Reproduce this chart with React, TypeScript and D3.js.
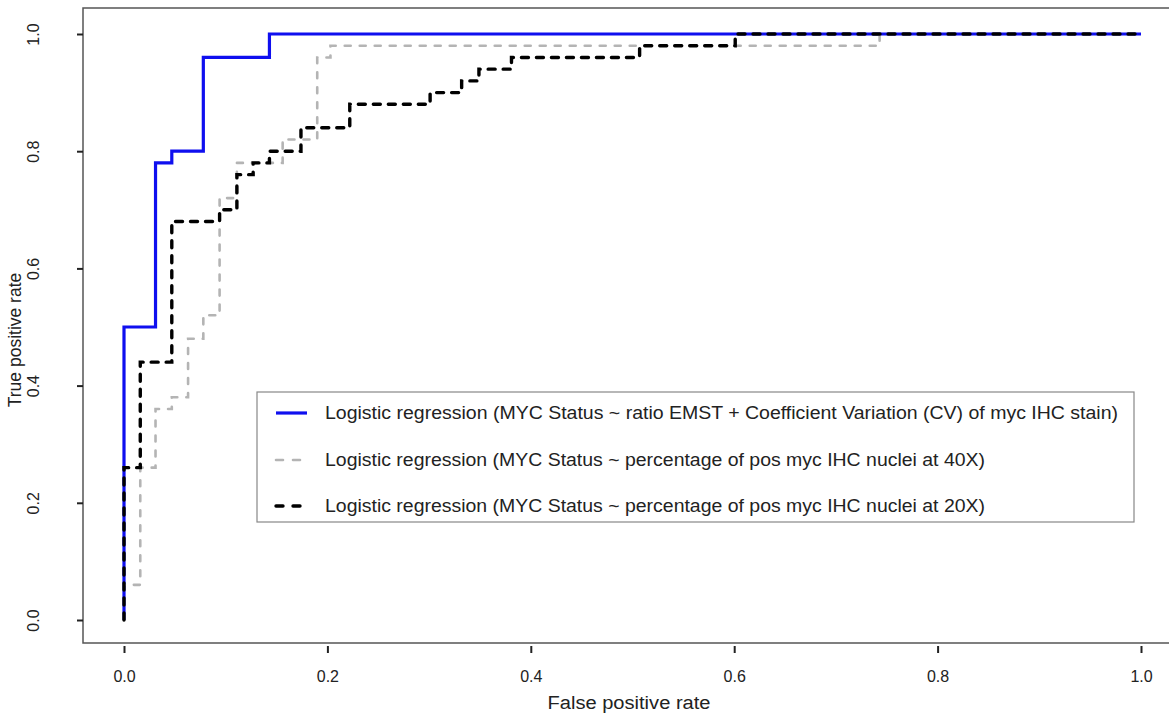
import React, { useEffect, useRef } from "react";
import * as d3 from "d3";

// ROC corner points, drawn with a step-after curve
const fprEmst = [0, 0, 0.031, 0.047, 0.078, 0.143, 1];
const tprEmst = [0, 0.5, 0.78, 0.8, 0.96, 1, 1];

const fpr40x = [0, 0, 0.016, 0.031, 0.047, 0.063, 0.078, 0.094, 0.111, 0.156, 0.19, 0.203, 0.743, 1];
const tpr40x = [0, 0.06, 0.26, 0.36, 0.38, 0.48, 0.52, 0.72, 0.78, 0.82, 0.96, 0.98, 1, 1];

const fpr20x = [0, 0, 0.016, 0.047, 0.094, 0.111, 0.127, 0.143, 0.174, 0.222, 0.301, 0.332, 0.349, 0.381, 0.507, 0.601, 1];
const tpr20x = [0, 0.26, 0.44, 0.68, 0.7, 0.76, 0.78, 0.8, 0.84, 0.88, 0.9, 0.92, 0.94, 0.96, 0.98, 1, 1];

const xTicks = [0, 0.2, 0.4, 0.6, 0.8, 1.0];
const yTicks = [0, 0.2, 0.4, 0.6, 0.8, 1.0];

const legendLabels = [
  "Logistic regression (MYC Status ~ ratio EMST + Coefficient Variation (CV) of myc IHC stain)",
  "Logistic regression (MYC Status ~ percentage of pos myc IHC nuclei at 40X)",
  "Logistic regression (MYC Status ~ percentage of pos myc IHC nuclei at 20X)",
];

const FONT = "'Liberation Sans', Arial, Helvetica, sans-serif";

export default function App() {
  const ref = useRef<SVGSVGElement>(null);

  useEffect(() => {
    const svg = d3.select(ref.current);
    svg.selectAll("*").remove();

    const x = d3.scaleLinear().domain([0, 1]).range([124, 1141]);
    const y = d3.scaleLinear().domain([0, 1]).range([620, 34]);
    const box = { left: 83, top: 8, right: 1175, bottom: 643 };

    const series = [
      { fpr: fprEmst, tpr: tprEmst, color: "#0f0fef", width: 3.2, dash: null },
      { fpr: fpr40x, tpr: tpr40x, color: "#b4b4b4", width: 2.6, dash: "6 9" },
      { fpr: fpr20x, tpr: tpr20x, color: "#000", width: 3.4, dash: "7 8" },
    ];

    const line = d3
      .line<number>()
      .curve(d3.curveStepAfter)
      .x((d) => d[0])
      .y((d) => d[1]);

    series.forEach((s) => {
      const pts = s.fpr.map((f, i) => [x(f), y(s.tpr[i])] as any);
      svg
        .append("path")
        .attr("d", line(pts))
        .attr("fill", "none")
        .attr("stroke", s.color)
        .attr("stroke-width", s.width)
        .attr("stroke-dasharray", s.dash)
        .attr("stroke-linecap", s.dash ? "round" : "butt");
    });

    // plot frame
    svg
      .append("rect")
      .attr("x", box.left)
      .attr("y", box.top)
      .attr("width", box.right - box.left)
      .attr("height", box.bottom - box.top)
      .attr("fill", "none")
      .attr("stroke", "#555")
      .attr("stroke-width", 1.5);

    // x axis
    const gx = svg.append("g").attr("transform", "translate(0," + (box.bottom + 3) + ")");
    gx.call(d3.axisBottom(x).tickValues(xTicks).tickFormat(d3.format(".1f")).tickSize(7).tickPadding(18));
    gx.select(".domain").remove();
    gx.selectAll("line").attr("stroke", "#222").attr("stroke-width", 2);
    gx.selectAll("text").attr("font-family", FONT).attr("font-size", 16).attr("fill", "#222");

    // y axis
    const gy = svg.append("g").attr("transform", "translate(" + box.left + ",0)");
    gy.call(d3.axisLeft(y).tickValues(yTicks).tickFormat(d3.format(".1f")).tickSize(6).tickPadding(0));
    gy.select(".domain").remove();
    gy.selectAll("line").attr("stroke", "#222").attr("stroke-width", 2);
    gy.selectAll(".tick text")
      .attr("font-family", FONT)
      .attr("font-size", 16)
      .attr("fill", "#222")
      .attr("x", null)
      .attr("dy", null)
      .attr("text-anchor", "middle")
      .attr("transform", "translate(-50,0) rotate(-90)")
      .attr("dominant-baseline", "central");

    svg
      .append("text")
      .attr("transform", "translate(15," + 340 + ") rotate(-90)")
      .attr("text-anchor", "middle")
      .attr("dominant-baseline", "central")
      .attr("font-family", FONT)
      .attr("font-size", 17.5)
      .attr("fill", "#222")
      .text("True positive rate");

    svg
      .append("text")
      .attr("x", 629)
      .attr("y", 703)
      .attr("text-anchor", "middle")
      .attr("dominant-baseline", "central")
      .attr("font-family", FONT)
      .attr("font-size", 18)
      .attr("textLength", 163)
      .attr("lengthAdjust", "spacingAndGlyphs")
      .attr("fill", "#222")
      .text("False positive rate");

    // legend
    const lg = svg.append("g");
    lg.append("rect")
      .attr("x", 257)
      .attr("y", 392)
      .attr("width", 877)
      .attr("height", 130)
      .attr("fill", "#fff")
      .attr("stroke", "#888")
      .attr("stroke-width", 1.2);
    const rowY = [413, 460, 506];
    const rowW = [793, 660, 660];
    series.forEach((s, i) => {
      lg.append("line")
        .attr("x1", 276)
        .attr("x2", 307)
        .attr("y1", rowY[i])
        .attr("y2", rowY[i])
        .attr("stroke", s.color)
        .attr("stroke-width", s.width)
        .attr("stroke-dasharray", s.dash ? "7 10" : null)
        .attr("stroke-linecap", s.dash ? "round" : "butt");
      lg.append("text")
        .attr("x", 325)
        .attr("y", rowY[i])
        .attr("dominant-baseline", "central")
        .attr("font-family", FONT)
        .attr("font-size", 17.5)
        .attr("textLength", rowW[i])
        .attr("lengthAdjust", "spacingAndGlyphs")
        .attr("fill", "#222")
        .text(legendLabels[i]);
    });
  }, []);

  return (
    <svg
      ref={ref}
      width={1169}
      height={713}
      style={{ position: "absolute", left: 0, top: 0, background: "#fff" }}
    />
  );
}
